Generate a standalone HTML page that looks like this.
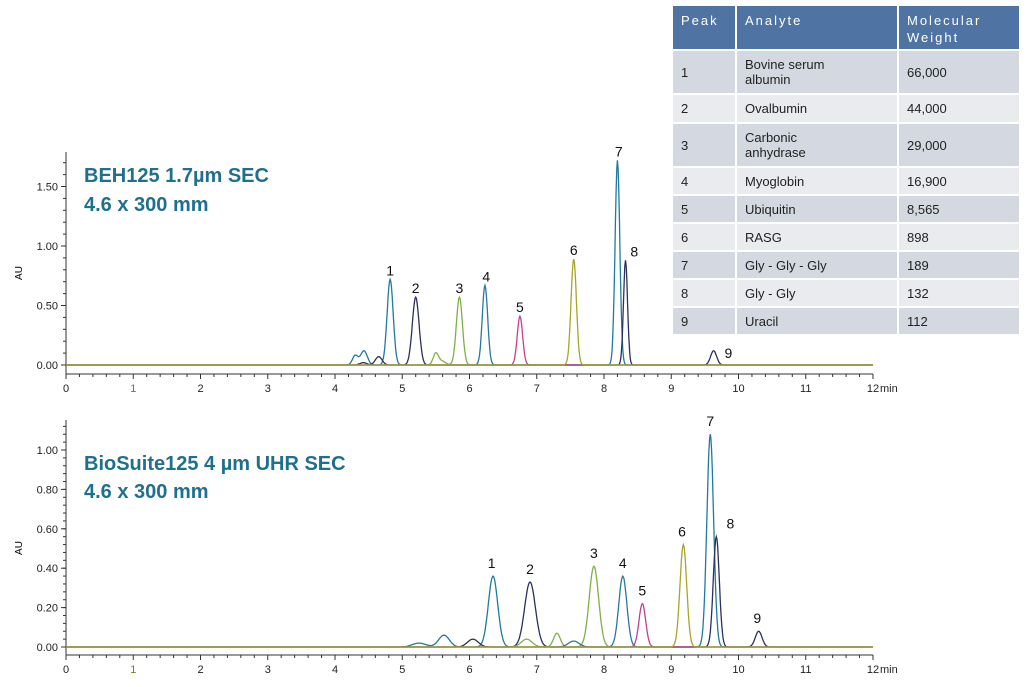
<!DOCTYPE html>
<html><head><style>
body{margin:0;width:1036px;height:687px;background:#fff;position:relative;overflow:hidden;font-family:"Liberation Sans",sans-serif}
svg{position:absolute;left:0;top:0}
table{position:absolute;left:671px;top:4px;border-collapse:separate;border-spacing:2px;font-size:13px;color:#222}
td{padding:0 0 0 8px;vertical-align:middle}
th{background:#4f73a3;color:#fff;font-weight:normal;text-align:left;letter-spacing:2px;font-size:13px;vertical-align:top;padding:6px 6px 0 8px;height:37px;line-height:17px}
tr.d td{background:#d4d9e1} tr.l td{background:#e9ebef}
</style></head><body>
<svg width="1036" height="687" id="s" font-family="Liberation Sans, sans-serif">
<g stroke="#333" stroke-width="1" fill="none" id="ax"></g>
<g font-size="11" fill="#222" id="lb"></g>
<text x="84" y="182" font-size="20" font-weight="bold" fill="#1f6f8f">BEH125 1.7µm SEC</text>
<text x="84" y="211" font-size="20" font-weight="bold" fill="#1f6f8f">4.6 x 300 mm</text>
<text x="84" y="470" font-size="20" font-weight="bold" fill="#1f6f8f">BioSuite125 4 µm UHR SEC</text>
<text x="84" y="498" font-size="20" font-weight="bold" fill="#1f6f8f">4.6 x 300 mm</text>
<text x="22" y="273" font-size="10" transform="rotate(-90 22 273)" text-anchor="middle">AU</text>
<text x="22" y="548" font-size="10" transform="rotate(-90 22 548)" text-anchor="middle">AU</text>
<g id="pk" fill="none" stroke-width="1.3"></g>
<g font-size="14" fill="#111" text-anchor="middle" id="nm"></g>
</svg>
<table>
<tr><th style="width:48px">Peak</th><th style="width:146px">Analyte</th><th style="width:106px">Molecular<br>Weight</th></tr>
<tr class="d" style="height:42px"><td>1</td><td>Bovine serum<br>albumin</td><td>66,000</td></tr>
<tr class="l" style="height:27px"><td>2</td><td>Ovalbumin</td><td>44,000</td></tr>
<tr class="d" style="height:42px"><td>3</td><td>Carbonic<br>anhydrase</td><td>29,000</td></tr>
<tr class="l" style="height:26px"><td>4</td><td>Myoglobin</td><td>16,900</td></tr>
<tr class="d" style="height:26px"><td>5</td><td>Ubiquitin</td><td>8,565</td></tr>
<tr class="l" style="height:26px"><td>6</td><td>RASG</td><td>898</td></tr>
<tr class="d" style="height:26px"><td>7</td><td>Gly - Gly - Gly</td><td>189</td></tr>
<tr class="l" style="height:26px"><td>8</td><td>Gly - Gly</td><td>132</td></tr>
<tr class="d" style="height:26px"><td>9</td><td>Uracil</td><td>112</td></tr>
</table>
<script>
var NS="http://www.w3.org/2000/svg";
function el(p,t,a,txt){var e=document.createElementNS(NS,t);for(var k in a)e.setAttribute(k,a[k]);if(txt!=null)e.textContent=txt;document.getElementById(p).appendChild(e);return e;}
var X0=66,PX=67.25;
function X(t){return X0+t*PX;}
function chart(y0,sc,axY,top,ticks){
 el("ax","line",{x1:X0,y1:top,x2:X0,y2:axY});
 el("ax","line",{x1:X0,y1:axY,x2:873,y2:axY});
 for(var i=0;i<=60;i++){var t=i/5;el("ax","line",{x1:X(t),y1:axY,x2:X(t),y2:axY+(i%5==0?5:3)});}
 for(var i=0;i<=12;i++)el("lb","text",{x:X(i),y:axY+18,"text-anchor":"middle",fill:i==1?"#5a8a2a":"#222"},i);
 el("lb","text",{x:880,y:axY+18},"min");
 ticks.forEach(function(v){var y=y0-v[0]*sc;el("lb","text",{x:58,y:y+4,"text-anchor":"end"},v[1]);el("ax","line",{x1:X0-5,y1:y,x2:X0,y2:y});});
 for(var y=y0;y>top;y-=sc*ticks[1][0]/5)el("ax","line",{x1:X0-3,y1:y,x2:X0,y2:y});
 el("ax","line",{x1:X0,y1:y0,x2:873,y2:y0,stroke:"#9a9a40"});
}
function trace(y0,sc,col,pk){
 var d="";for(var t=0;t<=12;t+=0.01){var v=0;pk.forEach(function(p){v+=p[1]*Math.exp(-Math.pow(t-p[0],2)/(2*p[2]*p[2]));});d+=(d?"L":"M")+X(t).toFixed(1)+","+(y0-v*sc).toFixed(1);}
 el("pk","path",{d:d,stroke:col});
}
var TE="#1f7b9c",NV="#2b3060",GR="#7fb048",MG="#c2408f",OL="#aaa428",BL="#2878a0";
chart(365,119,374,152,[[0,"0.00"],[0.5,"0.50"],[1,"1.00"],[1.5,"1.50"]]);
trace(365,119,TE,[[4.82,0.72,0.045],[4.3,0.08,0.04],[4.43,0.12,0.05],[8.2,1.72,0.035]]);
trace(365,119,NV,[[5.2,0.57,0.05],[4.65,0.07,0.05],[4.42,0.02,0.05],[8.32,0.88,0.03],[9.63,0.12,0.045]]);
trace(365,119,GR,[[5.85,0.57,0.045],[5.5,0.1,0.04],[5.6,0.03,0.05]]);
trace(365,119,BL,[[6.23,0.67,0.04]]);
trace(365,119,MG,[[6.75,0.41,0.04]]);
trace(365,119,OL,[[7.55,0.89,0.04]]);
[[4.82,.72,"1"],[5.2,.57,"2"],[5.85,.57,"3"],[6.25,.67,"4"],[6.75,.41,"5"],[7.55,.89,"6"],[8.22,1.72,"7"],[8.45,.88,"8"]].forEach(function(p){el("nm","text",{x:X(p[0]),y:365-p[1]*119-4},p[2]);});
el("nm","text",{x:X(9.85),y:358},"9");
chart(647,197,655,420,[[0,"0.00"],[0.2,"0.20"],[0.4,"0.40"],[0.6,"0.60"],[0.8,"0.80"],[1,"1.00"]]);
trace(647,197,TE,[[6.35,0.36,0.07],[5.62,0.06,0.08],[5.25,0.02,0.1],[9.58,1.08,0.05]]);
trace(647,197,NV,[[6.9,0.33,0.08],[6.05,0.04,0.08],[9.67,0.56,0.045],[10.3,0.08,0.05]]);
trace(647,197,GR,[[7.85,0.41,0.07],[6.85,0.04,0.08],[7.3,0.07,0.05]]);
trace(647,197,BL,[[8.28,0.36,0.06],[7.55,0.03,0.08]]);
trace(647,197,MG,[[8.57,0.22,0.05]]);
trace(647,197,OL,[[9.18,0.52,0.05]]);
[[6.33,.36,"1"],[6.9,.33,"2"],[7.85,.41,"3"],[8.28,.36,"4"],[8.57,.22,"5"],[9.16,.52,"6"],[9.58,1.08,"7"],[9.88,.56,"8"],[10.28,.08,"9"]].forEach(function(p){el("nm","text",{x:X(p[0]),y:647-p[1]*197-8},p[2]);});
</script>
</body></html>
